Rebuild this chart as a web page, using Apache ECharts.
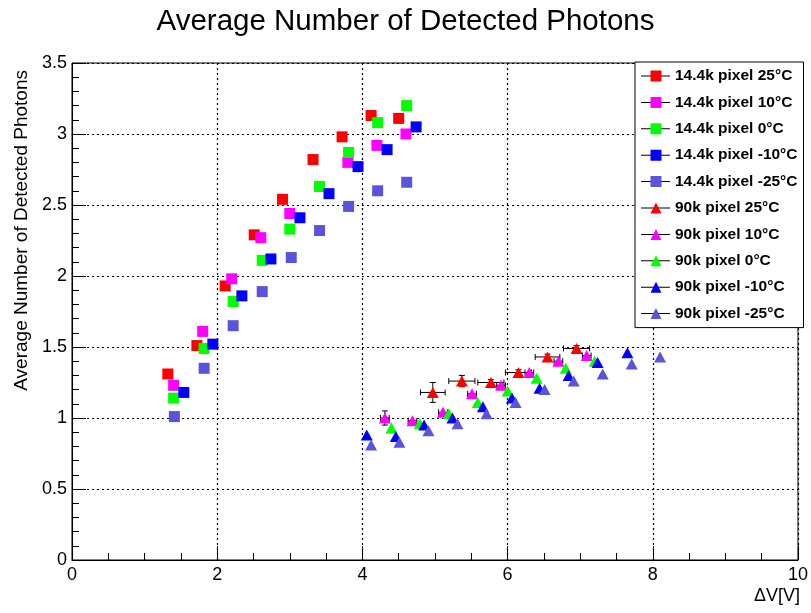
<!DOCTYPE html>
<html><head><meta charset="utf-8">
<script src="https://cdn.jsdelivr.net/npm/echarts@6/dist/echarts.min.js"></script>
<style>html,body{margin:0;padding:0;background:#fff}#c{width:811px;height:613px}</style>
</head><body><div id="c"></div>
<script>
// ---- data ----
const titleText = 'Average Number of Detected Photons';
const xTitle = '\u0394V[V]';
const yTitle = 'Average Number of Detected Photons';
const seriesNames = ['14.4k pixel 25\u00b0C','14.4k pixel 10\u00b0C','14.4k pixel 0\u00b0C','14.4k pixel -10\u00b0C','14.4k pixel -25\u00b0C',
                     '90k pixel 25\u00b0C','90k pixel 10\u00b0C','90k pixel 0\u00b0C','90k pixel -10\u00b0C','90k pixel -25\u00b0C'];
const colors = ['#ff0000','#ff00ff','#00ff00','#0000ff','#5954d9'];

// 14.4k pixel (squares)
const sq25X  = [1.32,1.72,2.11,2.51,2.90,3.32,3.72,4.12,4.50];
const sq25Y  = [1.31,1.51,1.93,2.29,2.54,2.82,2.98,3.13,3.11];
const sq10X  = [1.40,1.80,2.20,2.60,3.00,3.80,4.20,4.60];
const sq10Y  = [1.23,1.61,1.98,2.27,2.44,2.80,2.92,3.00];
const sq0X   = [1.40,1.82,2.22,2.62,3.00,3.41,3.81,4.21,4.61];
const sq0Y   = [1.14,1.49,1.82,2.11,2.33,2.63,2.87,3.08,3.20];
const sqm10X = [1.54,1.94,2.34,2.74,3.14,3.54,3.94,4.34,4.74];
const sqm10Y = [1.18,1.52,1.86,2.12,2.41,2.58,2.77,2.89,3.05];
const sqm25X = [1.41,1.82,2.22,2.62,3.02,3.41,3.81,4.21,4.61];
const sqm25Y = [1.01,1.35,1.65,1.89,2.13,2.32,2.49,2.60,2.66];

// 90k pixel (triangles)
const tr25X    = [4.97,5.37,5.77,6.15,6.55,6.95];
const tr25Y    = [1.18,1.26,1.25,1.32,1.43,1.49];
const tr25XErr = [0.17,0.18,0.18,0.18,0.17,0.18];
const tr25YErr = [0.07,0.04,0.02,0.02,0.02,0.02];
const tr10X    = [4.31,4.69,5.11,5.51,5.91,6.30,6.70,7.09];
const tr10Y    = [1.00,0.98,1.04,1.17,1.23,1.32,1.40,1.44];
const tr10XErr = [0.06,0.06,0.06,0.06,0.06,0.06,0.06,0.06];
const tr10YErr = [0.05,0.01,0.01,0.01,0.01,0.01,0.01,0.01];
const tr0X     = [4.40,4.79,5.19,5.59,6.00,6.40,6.80,7.20];
const tr0Y     = [0.93,0.96,1.03,1.11,1.19,1.28,1.35,1.40];
const trm10X   = [4.06,4.46,4.85,5.24,5.66,6.06,6.44,6.84,7.24,7.65];
const trm10Y   = [0.88,0.87,0.95,1.00,1.08,1.14,1.21,1.30,1.39,1.46];
const trm25X   = [4.12,4.51,4.91,5.31,5.71,6.11,6.51,6.91,7.31,7.71,8.10];
const trm25Y   = [0.81,0.83,0.91,0.96,1.03,1.11,1.20,1.26,1.31,1.38,1.43];

const xTicks = {min:0, max:10, interval:2};
const yTicks = {min:0, max:3.5, interval:0.5};

// ---- build ----
const FONT = '"Liberation Sans", Arial, Helvetica, sans-serif';
const zip = (xs, ys) => xs.map((x,i)=>[x, ys[i]]);
const zipErr = (xs, ys, ex, ey) => xs.map((x,i)=>[x, ys[i], ex[i], ey[i]]);

const pointSets = [
  [sq25X,sq25Y],[sq10X,sq10Y],[sq0X,sq0Y],[sqm10X,sqm10Y],[sqm25X,sqm25Y],
  [tr25X,tr25Y],[tr10X,tr10Y],[tr0X,tr0Y],[trm10X,trm10Y],[trm25X,trm25Y]
];

function errRender(params, api) {
  const x = api.value(0), y = api.value(1), ex = api.value(2), ey = api.value(3);
  const st = {stroke:'#000', lineWidth:1};
  const cap = 3;
  const l = api.coord([x-ex, y]), r = api.coord([x+ex, y]);
  const t = api.coord([x, y+ey]), b = api.coord([x, y-ey]);
  const ch = [
    {type:'line', shape:{x1:l[0],y1:l[1],x2:r[0],y2:r[1]}, style:st},
    {type:'line', shape:{x1:l[0],y1:l[1]-cap,x2:l[0],y2:l[1]+cap}, style:st},
    {type:'line', shape:{x1:r[0],y1:r[1]-cap,x2:r[0],y2:r[1]+cap}, style:st}
  ];
  if (Math.abs(b[1]-t[1]) > 3) {
    ch.push({type:'line', shape:{x1:t[0],y1:t[1],x2:b[0],y2:b[1]}, style:st});
    ch.push({type:'line', shape:{x1:t[0]-cap,y1:t[1],x2:t[0]+cap,y2:t[1]}, style:st});
    ch.push({type:'line', shape:{x1:b[0]-cap,y1:b[1],x2:b[0]+cap,y2:b[1]}, style:st});
  }
  return {type:'group', children:ch};
}

const series = [];
pointSets.forEach((ps, i) => {
  const isTri = i >= 5;
  series.push({
    type:'scatter', name:seriesNames[i],
    data: zip(ps[0], ps[1]),
    symbol: isTri ? 'triangle' : 'rect',
    symbolSize: isTri ? [12,11] : 11,
    itemStyle:{color:colors[i%5], opacity:1},
    emphasis:{disabled:true},
    z: 3 + i
  });
});
series.push({type:'custom', name:seriesNames[6], renderItem:errRender, itemStyle:{color:colors[1]},
  data:zipErr(tr10X,tr10Y,tr10XErr,tr10YErr), z:1, silent:true});
series.push({type:'custom', name:seriesNames[5], renderItem:errRender, itemStyle:{color:colors[0]},
  data:zipErr(tr25X,tr25Y,tr25XErr,tr25YErr), z:2, silent:true});

const anchors = 'M0,0L0.01,0M0,14L0.01,14M29,0L29.01,0M29,14L29.01,14';
const lineIcon = 'path://' + anchors + 'M0,6.5h29v1h-29z';
const sqIcon = 'path://' + anchors + 'M9.5,1.5h11v11h-11z';
const triIcon = 'path://' + anchors + 'M15,1.5L20.5,12.5L9.5,12.5Z';

const legendCommon = {
  orient:'vertical', left:635, top:62, padding:[6,6,6,6],
  itemGap:10.4, itemWidth:29, itemHeight:14,
  textStyle:{fontFamily:FONT, fontSize:15.5, fontWeight:'bold', color:'#000', lineHeight:14}
};

const option = {
  animation:false,
  backgroundColor:'#fff',
  title:{text:titleText, left:'center', top:2,
    textStyle:{fontFamily:FONT, fontSize:29.5, fontWeight:'normal', color:'#000'}},
  grid:{left:72, right:12, top:63, bottom:53, show:true, borderColor:'#000', borderWidth:1, containLabel:false},
  xAxis:{type:'value', min:xTicks.min, max:xTicks.max, interval:xTicks.interval,
    axisLine:{show:true, onZero:false, lineStyle:{color:'#000', width:1}},
    axisTick:{show:true, inside:true, length:14, lineStyle:{color:'#000'}},
    minorTick:{show:true, splitNumber:4, length:7, lineStyle:{color:'#000'}},
    splitLine:{show:true, lineStyle:{color:'#000', width:1.2, type:[2,3]}},
    axisLabel:{fontFamily:FONT, fontSize:18, color:'#000', margin:6}},
  yAxis:{type:'value', min:yTicks.min, max:yTicks.max, interval:yTicks.interval,
    axisLine:{show:true, onZero:false, lineStyle:{color:'#000', width:1}},
    axisTick:{show:true, inside:true, length:14, lineStyle:{color:'#000'}},
    minorTick:{show:true, splitNumber:5, length:7, lineStyle:{color:'#000'}},
    splitLine:{show:true, lineStyle:{color:'#000', width:1.2, type:[2,3]}},
    axisLabel:{fontFamily:FONT, fontSize:18, color:'#000', margin:5}},
  legend:[
    Object.assign({}, legendCommon, {
      z:20, borderColor:'#000', borderWidth:1, backgroundColor:'#fff',
      itemStyle:{color:'#000', borderWidth:0},
      data: seriesNames.map(n => ({name:n, icon:lineIcon}))
    }),
    Object.assign({}, legendCommon, {
      z:21, borderWidth:0, backgroundColor:'transparent',
      textStyle:Object.assign({}, legendCommon.textStyle, {color:'rgba(0,0,0,0)'}),
      data: seriesNames.map((n,i) => ({name:n, icon: i < 5 ? sqIcon : triIcon, itemStyle:{color:colors[i%5]}}))
    })
  ],
  graphic:[
    {type:'text', x:12, y:70, rotation:Math.PI/2,
     style:{text:yTitle, fontFamily:FONT, fontSize:19, fill:'#000', align:'right', verticalAlign:'top'}},
    {type:'text', x:800, y:587,
     style:{text:xTitle, fontFamily:FONT, fontSize:18, fill:'#000', align:'right', verticalAlign:'top'}}
  ],
  series: series
};

const chart = echarts.init(document.getElementById('c'), null, {renderer:'canvas'});
chart.setOption(option);
</script>
</body></html>
